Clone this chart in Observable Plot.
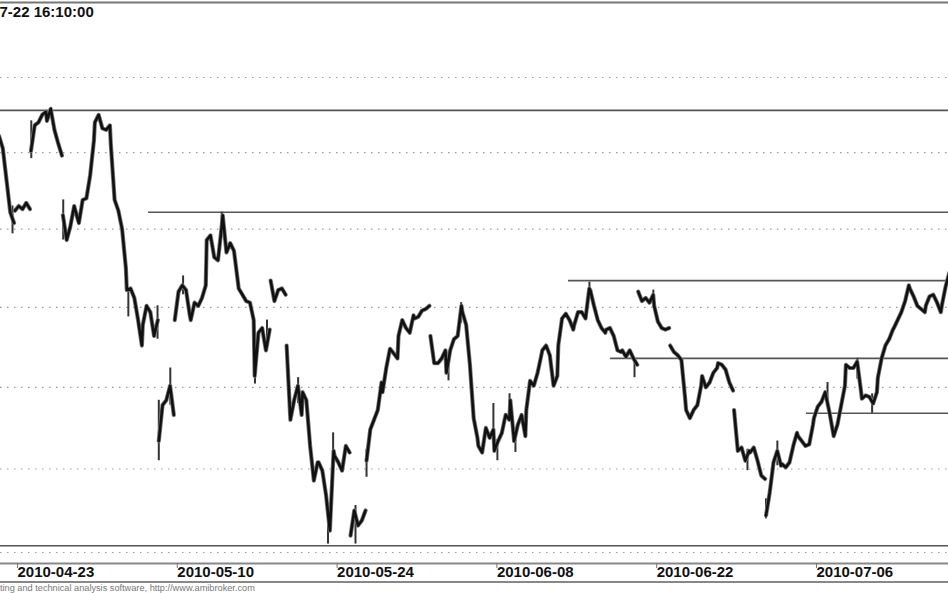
<!DOCTYPE html>
<html><head><meta charset="utf-8">
<script src="https://cdn.jsdelivr.net/npm/d3@7"></script>
<script src="https://cdn.jsdelivr.net/npm/@observablehq/plot@0.6"></script>
<style>
body{margin:0;background:#fff;}
#wrap{position:relative;width:948px;height:593px;overflow:hidden;font-family:Arial,"Liberation Sans",sans-serif;background:#fff;}
#foot{position:absolute;left:0;top:581px;width:948px;border-top:2px solid #888;font-size:9.2px;line-height:10px;color:#777;white-space:nowrap;}
</style></head><body><div id="wrap"><div id="chart"></div><div id="foot">ting and technical analysis software, http://www.amibroker.com</div></div>
<script>
const titleText = "7-22 16:10:00";
const tradingDays = ["2010-04-22","2010-04-23","2010-04-26","2010-04-27","2010-04-28","2010-04-29","2010-04-30","2010-05-04","2010-05-05","2010-05-06","2010-05-07",
"2010-05-10","2010-05-11","2010-05-12","2010-05-13","2010-05-14","2010-05-17","2010-05-18","2010-05-19","2010-05-20","2010-05-21",
"2010-05-24","2010-05-25","2010-05-26","2010-05-27","2010-05-28","2010-05-31","2010-06-01","2010-06-02","2010-06-04",
"2010-06-07","2010-06-08","2010-06-09","2010-06-10","2010-06-11","2010-06-14","2010-06-15","2010-06-16","2010-06-17","2010-06-18",
"2010-06-21","2010-06-22","2010-06-23","2010-06-24","2010-06-25","2010-06-28","2010-06-29","2010-06-30","2010-07-01","2010-07-02",
"2010-07-05","2010-07-06","2010-07-07","2010-07-08","2010-07-09","2010-07-12","2010-07-13","2010-07-14","2010-07-15","2010-07-16"];
const sessionFracs = [0.03, 0.265, 0.5, 0.735, 0.97];
const sessionPrices = [
[2461,2453,2432,2411,2404],[2412,2415,2413,2417,2413],[2451,2468,2470,2475,2477],[2471,2479,2465,2456,2448],
[2409,2393,2402,2415,2406],[2404,2419,2420,2435,2458],[2470,2475,2466,2465,2468],[2455,2419,2412,2400,2375],
[2361,2362,2356,2342,2326],[2339,2351,2347,2332,2342],[2267,2289,2292,2301,2283],[2342,2360,2364,2361,2345],
[2342,2353,2351,2356,2364],[2393,2396,2382,2380,2402],[2409,2385,2391,2386,2367],[2362,2358,2354,2353,2342],
[2307,2334,2337,2323,2336],[2367,2354,2361,2362,2358],[2326,2280,2292,2301,2283],[2297,2292,2264,2243,2254],
[2254,2249,2234,2213,2261],[2258,2254,2249,2264,2260],[2210,2225,2216,2219,2225],[2255,2274,2280,2286,2303],
[2297,2312,2324,2321,2318],[2332,2342,2337,2334,2345],[2343,2344,2348,2349,2351],[2332,2315,2315,2318,2323],
[2309,2323,2330,2332,2351],[2347,2339,2314,2281,2269],[2264,2260,2275,2269,2274],[2261,2267,2272,2283,2280],
[2292,2267,2277,2283,2270],[2286,2304,2301,2309,2320],[2323,2326,2320,2301,2307],[2326,2343,2346,2342,2336],
[2339,2347,2347,2343,2362],[2361,2351,2342,2337,2334],[2336,2337,2332,2323,2322],[2323,2319,2323,2318,2314],
[2360,2354,2356,2353,2358],[2351,2341,2337,2336,2337],[2326,2322,2320,2317,2293],[2286,2281,2286,2289,2301],
[2307,2300,2303,2309,2312],[2315,2314,2311,2303,2298],[2286,2261,2263,2255,2261],[2260,2263,2255,2246,2244],
[2222,2236,2254,2261,2252],[2253,2251,2254,2264,2272],[2270,2267,2264,2265,2277],[2281,2288,2291,2297,2286],
[2283,2270,2277,2289,2301],[2314,2312,2312,2316,2298],[2293,2295,2294,2290,2297],[2306,2318,2326,2330,2336],
[2337,2342,2347,2354,2364],[2362,2357,2351,2349,2347],[2351,2357,2358,2353,2347],[2351,2363,2372]
];
// sessions that open with a visible price gap (not joined to the previous session)
const gapOpenDates = ["2010-04-23","2010-04-26","2010-04-28","2010-05-07","2010-05-10","2010-05-18","2010-05-19","2010-05-25","2010-05-26","2010-06-01","2010-06-21","2010-06-23","2010-06-29","2010-07-01"];
const wickDates = ["2010-04-22","2010-04-26","2010-04-28","2010-05-05","2010-05-06","2010-05-07","2010-05-07","2010-05-10","2010-05-12","2010-05-17","2010-05-17","2010-05-19","2010-05-21","2010-05-21","2010-05-25","2010-05-26","2010-06-02","2010-06-02","2010-06-07","2010-06-08","2010-06-08","2010-06-09","2010-06-14","2010-06-15","2010-06-18","2010-06-21","2010-06-29","2010-07-01","2010-07-01","2010-07-06","2010-07-08","2010-07-09"];
const wickFracs = [0.875,0.05,0.05,0.125,0.95,0.03,0.75,0.55,0.97,0.05,0.8,0.75,0.62,0.94,0.34,0.03,0.16,0.95,0.97,0.22,0.98,0.35,0.03,0.98,0.8,0.98,0.87,0.03,0.74,0.88,0.75,0.67];
const wickLows  = [2397,2446,2393,2344,2330,2255,2289,2358,2395,2302,2324,2290,2205,2258,2205,2245,2304,2340,2270,2255,2280,2260,2317,2355,2306,2350,2249,2220,2252,2288,2305,2284];
const wickHighs = [2415,2471,2419,2361,2351,2292,2312,2370,2411,2320,2342,2306,2225,2272,2228,2262,2316,2353,2290,2268,2296,2272,2330,2366,2318,2361,2262,2232,2267,2303,2318,2296];
const gridPrices = [2200, 2250, 2300, 2350, 2400, 2450, 2500];
const levelPrices = [2478, 2411, 2367, 2318, 2284, 2204];
const levelStartDates = ["2010-04-22","2010-05-06","2010-06-14","2010-06-17","2010-07-05","2010-04-22"];
const levelStartFracs = [0, 0.39, 0.67, 0.3, 0.56, 0];
const tickDates = ["2010-04-23","2010-05-10","2010-05-24","2010-06-08","2010-06-22","2010-07-06"];

const dayPos = (date, frac) => tradingDays.indexOf(date) - 1 + frac;
const pts = [];
let seg = 0;
sessionPrices.forEach((arr, i) => {
  if (gapOpenDates.includes(tradingDays[i])) seg++;
  arr.forEach((p, j) => pts.push({d: i - 1 + sessionFracs[j], seg, p}));
});
const wicks = wickDates.map((dt, i) => ({d: dayPos(dt, wickFracs[i]), lo: wickLows[i], hi: wickHighs[i]}));
const xDomain = [-0.876, 58.45];
const levels = levelPrices.map((p, i) => ({p, x1: dayPos(levelStartDates[i], levelStartFracs[i]), x2: xDomain[1]}));
const tickPos = tickDates.map(t => dayPos(t, 0));

const chart = Plot.plot({
  width: 948, height: 581, marginTop: 2, marginBottom: 18, marginLeft: 0, marginRight: 0,
  style: {fontFamily: "Arial, 'Liberation Sans', sans-serif", background: "#fff", overflow: "visible"},
  x: {type: "linear", domain: xDomain, label: null},
  y: {type: "log", domain: [2200, 2500], range: [552, 77], axis: null},
  marks: [
    Plot.ruleY(gridPrices, {stroke: "#9a9a9a", strokeDasharray: "1.5,5.5", strokeWidth: 1.2}),
    Plot.ruleY(levels, {y: "p", x1: "x1", x2: "x2", stroke: "#555", strokeWidth: 1.6}),
    Plot.ruleX(wicks, {x: "d", y1: "lo", y2: "hi", stroke: "#333", strokeWidth: 2}),
    Plot.line(pts, {x: "d", y: "p", z: "seg", stroke: "#777", strokeWidth: 4.2, strokeLinejoin: "round", strokeLinecap: "round"}),
    Plot.line(pts, {x: "d", y: "p", z: "seg", stroke: "#111", strokeWidth: 2.6, strokeLinejoin: "round", strokeLinecap: "round"}),
    Plot.frame({anchor: "top", stroke: "#777", strokeWidth: 2}),
    Plot.frame({anchor: "bottom", stroke: "#888", strokeWidth: 2}),
    Plot.axisX({ticks: tickPos, tickFormat: (d, i) => tickDates[i], tickSize: 5, tickPadding: -2, textAnchor: "start", dx: 3, fontSize: 15, fontWeight: "bold", stroke: "#777", fill: "#111", label: null}),
    Plot.text([titleText], {frameAnchor: "top-left", dx: -1, dy: 4, fontSize: 15, fontWeight: "bold", textAnchor: "start", lineAnchor: "top", fill: "#111"})
  ]
});
document.getElementById("chart").appendChild(chart);
</script>
</body></html>
